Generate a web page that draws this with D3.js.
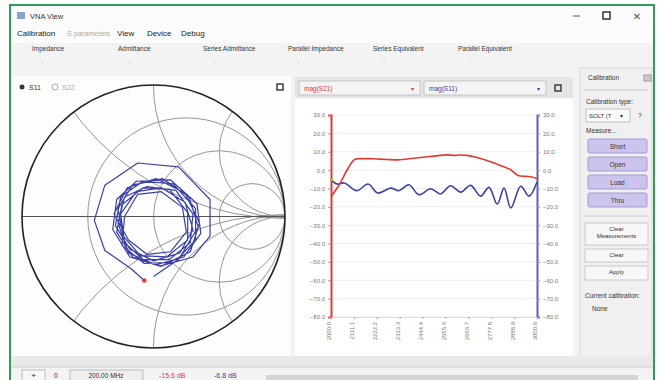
<!DOCTYPE html>
<html>
<head>
<meta charset="utf-8">
<script src="https://cdn.jsdelivr.net/npm/d3@7"></script>
<style>
  body { margin: 0; background: #fff; }
  svg { display: block; font-family: "Liberation Sans", "DejaVu Sans", sans-serif; }
</style>
</head>
<body>
<svg id="chart" width="662" height="380"></svg>
<script>
// trace data
const freqS21 = [2000, 2040, 2083, 2115, 2160, 2204, 2270, 2333, 2390, 2446, 2500, 2560, 2600, 2624, 2660, 2705, 2750, 2803, 2840, 2868, 2908, 2948, 2975, 3000];
const magS21 = [-14.5, -8, 1, 5.8, 6.2, 6.2, 5.8, 5.6, 6.3, 7, 7.6, 8.3, 8, 8.2, 8, 7, 5.5, 3.3, 1.8, 0.5, -2.9, -3.4, -3.8, -4.7];

const freqS11 = [2000, 2030, 2065, 2125, 2180, 2228, 2290, 2330, 2378, 2427, 2484, 2532, 2580, 2630, 2678, 2726, 2767, 2807, 2840, 2873, 2921, 2961, 3000];
const magS11 = [-5.3, -7.6, -7, -11.2, -7.6, -12.5, -9.8, -11.2, -8, -13.4, -10.2, -13, -8.5, -12, -8.3, -14.2, -9.4, -18.5, -9.8, -20.6, -8.8, -14.2, -6.5];

// S11 on the Smith chart (reflection coefficient, re / im)
const smithRe = [-0.07, -0.17, -0.37, -0.45, -0.37, -0.12, 0.19, 0.43, 0.43, 0.30, 0.05,
  -0.18, -0.31, -0.28, -0.13, 0.13, 0.33, 0.36, 0.23, 0.02,
  -0.19, -0.27, -0.22, -0.05, 0.17, 0.30, 0.28, 0.12, -0.08,
  -0.22, -0.25, -0.13, 0.06, 0.24, 0.30, 0.20, 0.00, -0.18,
  -0.29, -0.25, -0.08, 0.15, 0.32, 0.32, 0.16, -0.07, -0.24,
  -0.22, -0.12, 0.06, 0.22, 0.25, 0.13, -0.05, -0.19,
  -0.30, -0.20, 0.02, 0.24, 0.35, 0.28, 0.06, -0.16, -0.28,
  -0.24, -0.08, 0.12, 0.26, 0.26, 0.10, -0.10, -0.23,
  -0.27, -0.16, 0.07, 0.27, 0.34, 0.19, 0.00];
const smithIm = [-0.49, -0.40, -0.26, -0.03, 0.24, 0.41, 0.38, 0.13, -0.15, -0.31, -0.38,
  -0.31, -0.10, 0.13, 0.27, 0.28, 0.10, -0.13, -0.31, -0.37,
  -0.28, -0.05, 0.15, 0.23, 0.20, 0.02, -0.20, -0.33, -0.33,
  -0.20, 0.02, 0.19, 0.22, 0.11, -0.10, -0.28, -0.34, -0.25,
  -0.07, 0.15, 0.27, 0.25, 0.06, -0.18, -0.35, -0.36, -0.22,
  0.00, 0.17, 0.19, 0.07, -0.12, -0.27, -0.29, -0.18,
  0.02, 0.22, 0.29, 0.18, -0.05, -0.27, -0.38, -0.31, -0.12,
  0.09, 0.22, 0.21, 0.03, -0.18, -0.31, -0.30, -0.15,
  0.06, 0.24, 0.29, 0.15, -0.08, -0.33, -0.46];

// smith grid values
const resistances = [1 / 3, 1, 3];
const reactances = [0.5, 1, 2, -0.5, -1, -2];

// tick labels
const yTicks = [30, 20, 10, 0, -10, -20, -30, -40, -50, -60, -70, -80];
const xTicks = [2000, 2111.1, 2222.2, 2333.3, 2444.4, 2555.6, 2666.7, 2777.8, 2888.9, 3000];
const xTickLabels = ['2000.0', '2111.1', '2222.2', '2333.3', '2444.4', '2555.6', '2666.7', '2777.8', '2888.9', '3000.0'];

const headers = ['Impedance', 'Admittance', 'Series Admittance', 'Parallel Impedance', 'Series Equivalent', 'Parallel Equivalent'];
const headerX = [32, 118, 203, 288, 373, 458];
const menus = ['Calibration', 'S parameters', 'View', 'Device', 'Debug'];
const menuX = [17, 67, 117, 147, 181];
const measureButtons = ['Short', 'Open', 'Load', 'Thru'];

const RED = '#e03a32';
const BLUE = '#3a40a6';

const svg = d3.select('#chart');

// window frame
svg.append('rect').attr('width', 662).attr('height', 380).attr('fill', '#fff');
svg.append('rect').attr('x', 10).attr('y', 5).attr('width', 644).attr('height', 380)
  .attr('fill', '#f3f3f3');
svg.append('rect').attr('x', 10).attr('y', 5).attr('width', 644).attr('height', 38).attr('fill', '#fbfbfb');

// title bar
svg.append('rect').attr('x', 17).attr('y', 12).attr('width', 8).attr('height', 7).attr('fill', '#8aa2c8');
svg.append('text').attr('x', 30).attr('y', 19).attr('font-size', 7.5).attr('fill', '#333').text('VNA View');
svg.append('line').attr('x1', 573).attr('x2', 580).attr('y1', 16).attr('y2', 16).attr('stroke', '#555');
svg.append('rect').attr('x', 603).attr('y', 12).attr('width', 7).attr('height', 7)
  .attr('fill', 'none').attr('stroke', '#333').attr('stroke-width', 1.5);
svg.append('text').attr('x', 637).attr('y', 20).attr('font-size', 10).attr('text-anchor', 'middle')
  .attr('fill', '#555').text('✕');

// menu
svg.selectAll('.menu').data(menus).enter().append('text')
  .attr('x', (d, i) => menuX[i]).attr('y', 36)
  .attr('font-size', (d, i) => i === 1 ? 7.2 : 8)
  .attr('fill', (d, i) => i === 1 ? '#aaa' : '#222')
  .text(d => d);

// result header row
svg.selectAll('.hdr').data(headers).enter().append('text')
  .attr('x', (d, i) => headerX[i]).attr('y', 51).attr('font-size', 6.5).attr('fill', '#333')
  .text(d => d);
svg.selectAll('.dash').data(headers).enter().append('text')
  .attr('x', (d, i) => headerX[i] + 10).attr('y', 64).attr('font-size', 6).attr('fill', '#999')
  .text('-');

// ---- Smith chart panel ----
svg.append('rect').attr('x', 12).attr('y', 76).attr('width', 279).attr('height', 280).attr('fill', '#fdfdfd');
svg.append('circle').attr('cx', 22).attr('cy', 87).attr('r', 2.5).attr('fill', '#333');
svg.append('text').attr('x', 29).attr('y', 90).attr('font-size', 7).attr('fill', '#333').text('S11');
svg.append('circle').attr('cx', 55).attr('cy', 87).attr('r', 3).attr('fill', 'none').attr('stroke', '#aaa');
svg.append('text').attr('x', 62).attr('y', 90).attr('font-size', 7).attr('fill', '#aaa').text('S22');
svg.append('rect').attr('x', 277).attr('y', 84).attr('width', 6).attr('height', 6)
  .attr('fill', 'none').attr('stroke', '#333').attr('stroke-width', 1.4);

const sx = d3.scaleLinear().domain([-1, 1]).range([22, 285]);
const sy = d3.scaleLinear().domain([-1, 1]).range([347, 86]);
const unit = sx(1) - sx(0);

svg.append('clipPath').attr('id', 'unit')
  .append('circle').attr('cx', sx(0)).attr('cy', sy(0)).attr('r', unit);

const grid = svg.append('g').attr('clip-path', 'url(#unit)')
  .attr('fill', 'none').attr('stroke', '#8a8a8a').attr('stroke-width', 0.9);

grid.selectAll('.rc').data(resistances).enter().append('circle')
  .attr('cx', r => sx(r / (1 + r))).attr('cy', sy(0)).attr('r', r => unit / (1 + r));
grid.selectAll('.xc').data(reactances).enter().append('circle')
  .attr('cx', sx(1)).attr('cy', x => sy(1 / x)).attr('r', x => unit / Math.abs(x));
svg.append('line').attr('x1', sx(-1)).attr('x2', sx(1)).attr('y1', sy(0)).attr('y2', sy(0))
  .attr('stroke', '#555').attr('stroke-width', 1);
svg.append('circle').attr('cx', sx(0)).attr('cy', sy(0)).attr('r', unit)
  .attr('fill', 'none').attr('stroke', '#222').attr('stroke-width', 1.6);

const smithLine = d3.line().x(i => sx(smithRe[i])).y(i => sy(smithIm[i]));
svg.append('path').attr('d', smithLine(d3.range(smithRe.length)))
  .attr('fill', 'none').attr('stroke', BLUE).attr('stroke-width', 1.2).attr('stroke-linejoin', 'round');
svg.append('circle').attr('cx', sx(smithRe[0])).attr('cy', sy(smithIm[0])).attr('r', 2.3).attr('fill', RED);

// ---- magnitude plot panel ----
svg.append('rect').attr('x', 295).attr('y', 77).attr('width', 278).attr('height', 21).attr('fill', '#e4e4e4');
svg.append('rect').attr('x', 295).attr('y', 98).attr('width', 278).attr('height', 258).attr('fill', '#fff');

function combo(x, w, label, color) {
  svg.append('rect').attr('x', x).attr('y', 81).attr('width', w).attr('height', 14)
    .attr('fill', '#f4f4f4').attr('stroke', '#c4c4c4');
  svg.append('text').attr('x', x + 5).attr('y', 91).attr('font-size', 6.5).attr('fill', color).text(label);
  svg.append('text').attr('x', x + w - 9).attr('y', 91).attr('font-size', 6).attr('fill', color).text('▾');
}
combo(299, 121, 'mag(S21)', RED);
combo(424, 122, 'mag(S11)', BLUE);
svg.append('rect').attr('x', 555).attr('y', 85).attr('width', 6).attr('height', 6)
  .attr('fill', 'none').attr('stroke', '#333').attr('stroke-width', 1.4);

const x = d3.scaleLinear().domain([2000, 3000]).range([331, 537]);
const yL = d3.scaleLinear().domain([-80, 30]).range([317, 115]);
const yR = d3.scaleLinear().domain([-80, 30]).range([317, 115]);

svg.append('g').selectAll('line').data(yTicks).enter().append('line')
  .attr('x1', x(2000)).attr('x2', x(3000)).attr('y1', d => yL(d)).attr('y2', d => yL(d))
  .attr('stroke', '#eeeeee');

const fmt = d3.format('.1f');
const axL = svg.append('g').attr('transform', `translate(${x(2000)},0)`)
  .call(d3.axisLeft(yL).tickValues(yTicks).tickFormat(fmt).tickSize(3));
const axR = svg.append('g').attr('transform', `translate(${x(3000)},0)`)
  .call(d3.axisRight(yR).tickValues(yTicks).tickFormat(fmt).tickSize(3));
axL.select('.domain').attr('stroke', RED).attr('stroke-width', 2);
axR.select('.domain').attr('stroke', '#5a5fc0').attr('stroke-width', 2);
[axL, axR].forEach(a => {
  a.selectAll('.tick line').attr('stroke', '#999');
  a.selectAll('.tick text').attr('font-size', 6).attr('fill', '#777').attr('font-family', 'Liberation Sans');
});

const axB = svg.append('g').attr('transform', `translate(0,${yL(-80)})`)
  .call(d3.axisBottom(x).tickValues(xTicks).tickFormat((d, i) => xTickLabels[i]).tickSize(2));
axB.select('.domain').attr('stroke', '#ddd');
axB.selectAll('.tick line').attr('stroke', '#aaa');
axB.selectAll('.tick text').attr('font-size', 6).attr('fill', '#777').attr('font-family', 'Liberation Sans')
  .attr('text-anchor', 'end').attr('transform', 'rotate(-90)').attr('x', -5).attr('y', -2).attr('dy', '0.32em');

const lineS21 = d3.line().curve(d3.curveCatmullRom).x(i => x(freqS21[i])).y(i => yL(magS21[i]));
const lineS11 = d3.line().curve(d3.curveCatmullRom).x(i => x(freqS11[i])).y(i => yR(magS11[i]));
svg.append('path').attr('d', lineS11(d3.range(freqS11.length)))
  .attr('fill', 'none').attr('stroke', BLUE).attr('stroke-width', 1.6);
svg.append('path').attr('d', lineS21(d3.range(freqS21.length)))
  .attr('fill', 'none').attr('stroke', RED).attr('stroke-width', 1.6);
svg.append('circle').attr('cx', x(freqS11[0]) + 1).attr('cy', yR(magS11[0])).attr('r', 1.5).attr('fill', '#9acd32');

// ---- calibration panel ----
svg.append('rect').attr('x', 580).attr('y', 68).attr('width', 72).attr('height', 294)
  .attr('fill', '#f0f0f0').attr('stroke', '#d8d8d8');
svg.append('text').attr('x', 588).attr('y', 80).attr('font-size', 6.5).attr('fill', '#333').text('Calibration');
svg.append('rect').attr('x', 644).attr('y', 75).attr('width', 7).attr('height', 6).attr('fill', '#ccc').attr('stroke', '#999');
svg.append('line').attr('x1', 584).attr('x2', 648).attr('y1', 90).attr('y2', 90).attr('stroke', '#ccc');
svg.append('text').attr('x', 586).attr('y', 104).attr('font-size', 6.5).attr('fill', '#333').text('Calibration type:');
svg.append('rect').attr('x', 586).attr('y', 109).attr('width', 44).attr('height', 13)
  .attr('fill', '#fafafa').attr('stroke', '#c0c0c0');
svg.append('text').attr('x', 589).attr('y', 118).attr('font-size', 6).attr('fill', '#333').text('SOLT (T');
svg.append('text').attr('x', 620).attr('y', 118).attr('font-size', 6).attr('fill', '#333').text('▾');
svg.append('text').attr('x', 638).attr('y', 118).attr('font-size', 6.5).attr('fill', '#333').text('?');
svg.append('text').attr('x', 586).attr('y', 133).attr('font-size', 6.5).attr('fill', '#333').text('Measure...');

svg.selectAll('.mb').data(measureButtons).enter().append('rect')
  .attr('x', 588).attr('y', (d, i) => 139 + i * 18).attr('width', 59).attr('height', 14).attr('rx', 1.5)
  .attr('fill', '#cbc5ee').attr('stroke', '#a29bd2');
svg.selectAll('.mt').data(measureButtons).enter().append('text')
  .attr('x', 617.5).attr('y', (d, i) => 148.5 + i * 18).attr('text-anchor', 'middle')
  .attr('font-size', 6.5).attr('fill', '#333').text(d => d);
svg.append('line').attr('x1', 584).attr('x2', 648).attr('y1', 216).attr('y2', 216).attr('stroke', '#ccc');

function button(y, h, lines) {
  svg.append('rect').attr('x', 585).attr('y', y).attr('width', 63).attr('height', h)
    .attr('fill', '#f7f7f7').attr('stroke', '#c8c8c8');
  lines.forEach((t, i) => svg.append('text').attr('x', 616.5).attr('y', y + 8 + i * 7)
    .attr('text-anchor', 'middle').attr('font-size', 6).attr('fill', '#333').text(t));
}
button(223, 22, ['Clear', 'Measurements']);
button(249, 13, ['Clear']);
button(266, 14, ['Apply']);
svg.append('text').attr('x', 585).attr('y', 298).attr('font-size', 6.5).attr('fill', '#333').text('Current calibration:');
svg.append('text').attr('x', 592).attr('y', 311).attr('font-size', 6.5).attr('fill', '#333').text('None');

// ---- bottom bar ----
svg.append('rect').attr('x', 10).attr('y', 356).attr('width', 644).attr('height', 11).attr('fill', '#e9e9e9');
svg.append('line').attr('x1', 10).attr('x2', 654).attr('y1', 367).attr('y2', 367).attr('stroke', '#ccc');
svg.append('rect').attr('x', 22).attr('y', 370).attr('width', 23).attr('height', 12).attr('fill', '#f7f7f7').attr('stroke', '#bbb');
svg.append('text').attr('x', 33.5).attr('y', 378).attr('text-anchor', 'middle').attr('font-size', 8).attr('fill', '#222').text('+');
svg.append('text').attr('x', 54).attr('y', 378).attr('font-size', 6.5).attr('fill', '#333').text('0');
svg.append('rect').attr('x', 70).attr('y', 370).attr('width', 73).attr('height', 12).attr('fill', '#eee').attr('stroke', '#bbb');
svg.append('text').attr('x', 106).attr('y', 378).attr('text-anchor', 'middle').attr('font-size', 6.5).attr('fill', '#333').text('200.00 MHz');
svg.append('text').attr('x', 159).attr('y', 378).attr('font-size', 7).attr('fill', RED).text('-15.6 dB');
svg.append('text').attr('x', 214).attr('y', 378).attr('font-size', 7).attr('fill', BLUE).text('-6.8 dB');
svg.append('rect').attr('x', 266).attr('y', 375).attr('width', 372).attr('height', 7).attr('fill', '#d5d5d5');

// green frame of the screenshot
svg.append('rect').attr('x', 10).attr('y', 5).attr('width', 644).attr('height', 380)
  .attr('fill', 'none').attr('stroke', '#2f9e55').attr('stroke-width', 2);
</script>
</body>
</html>
